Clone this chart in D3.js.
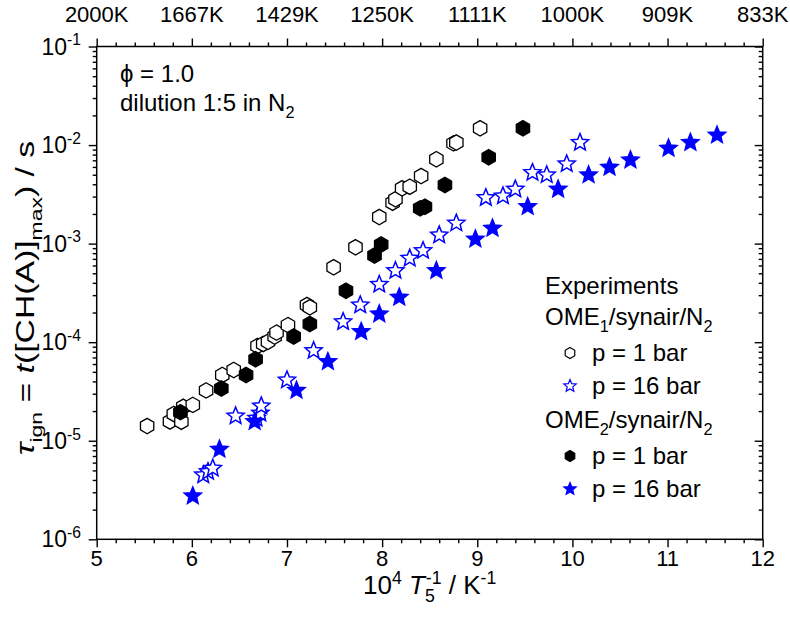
<!DOCTYPE html>
<html>
<head>
<meta charset="utf-8">
<script src="https://cdn.jsdelivr.net/npm/d3@7"></script>
<style>
  body { margin: 0; background: #fff; }
  text { font-family: "Liberation Sans", Arial, sans-serif; fill: #000; }
</style>
</head>
<body>
<div id="chart"></div>
<script>
// data points: [10^4 / T5 (1/K), ignition delay (s)]
var ome1_1bar = [
  [5.53, 1.41e-5], [5.77, 1.57e-5], [5.81, 1.87e-5], [5.89, 1.56e-5], [5.91, 2.21e-5],
  [6.01, 2.31e-5], [6.15, 3.24e-5], [6.32, 4.65e-5], [6.44, 5.22e-5], [6.69, 9.14e-5],
  [6.75, 9.6e-5], [6.80, 1.01e-4], [6.87, 1.14e-4], [6.89, 1.25e-4], [7.01, 1.49e-4],
  [7.21, 2.38e-4], [7.24, 2.26e-4], [7.49, 5.75e-4], [7.72, 9.18e-4], [7.97, 1.86e-3],
  [8.11, 2.60e-3], [8.14, 2.82e-3], [8.21, 3.64e-3], [8.29, 3.78e-3], [8.41, 4.85e-3],
  [8.57, 7.18e-3], [8.75, 1.04e-2], [8.78, 1.06e-2], [9.03, 1.48e-2]
];
var ome1_16bar = [
  [6.12, 4.49e-6], [6.17, 4.85e-6], [6.22, 5.25e-6], [6.46, 1.78e-5], [6.68, 1.69e-5],
  [6.72, 1.9e-5], [6.73, 2.25e-5], [7.00, 4.13e-5], [7.28, 8.2e-5], [7.59, 1.61e-4],
  [7.77, 2.38e-4], [7.97, 3.85e-4], [8.14, 5.31e-4], [8.29, 7.1e-4], [8.43, 8.48e-4],
  [8.60, 1.22e-3], [8.78, 1.61e-3], [9.09, 2.92e-3], [9.27, 3.04e-3], [9.40, 3.56e-3],
  [9.58, 5.25e-3], [9.73, 4.97e-3], [9.94, 6.43e-3], [10.08, 1.06e-2]
];
var ome2_1bar = [
  [5.88, 1.95e-5], [6.31, 3.39e-5], [6.57, 4.65e-5], [6.67, 6.7e-5], [7.07, 1.14e-4],
  [7.24, 1.53e-4], [7.62, 3.33e-4], [7.92, 7.57e-4], [7.99, 9.8e-4], [8.40, 2.28e-3],
  [8.45, 2.37e-3], [8.66, 3.94e-3], [9.12, 7.52e-3], [9.48, 1.48e-2]
];
var ome2_16bar = [
  [6.01, 2.75e-6], [6.29, 8.18e-6], [6.66, 1.56e-5], [7.10, 3.24e-5], [7.43, 6.34e-5],
  [7.78, 1.28e-4], [7.97, 1.93e-4], [8.18, 2.85e-4], [8.57, 5.31e-4], [8.98, 1.11e-3],
  [9.16, 1.43e-3], [9.53, 2.37e-3], [9.85, 3.56e-3], [10.17, 4.97e-3], [10.39, 5.94e-3],
  [10.61, 7.05e-3], [11.01, 9.27e-3], [11.24, 1.06e-2], [11.52, 1.26e-2]
];

var xTicks = [5, 6, 7, 8, 9, 10, 11, 12];
var topLabels = ["2000K", "1667K", "1429K", "1250K", "1111K", "1000K", "909K", "833K"];
var yTicks = [1e-6, 1e-5, 1e-4, 1e-3, 1e-2, 1e-1];
var yExponents = ["-6", "-5", "-4", "-3", "-2", "-1"];

var width = 790, height = 618;
var pL = 96.7, pR = 762.7, pT = 46.5, pB = 539.3;

var svg = d3.select('#chart').append('svg')
  .attr('width', width)
  .attr('height', height);

var x = d3.scaleLinear().domain([5, 12]).range([pL, pR]);
var y = d3.scaleLog().domain([1e-6, 1e-1]).range([pB, pT]);

// minor tick values
var xMinor = d3.range(5, 12.001, 0.2).filter(function(v) { return Math.abs(v - Math.round(v)) > 1e-6; });
var yMinor = [];
for (var e = -6; e < -1; e++) {
  for (var k = 2; k <= 9; k++) yMinor.push(k * Math.pow(10, e));
}

function tickAxis(axis, values, size) {
  return axis.tickValues(values).tickSize(size).tickSizeOuter(0).tickFormat('');
}

function styleAxis(g) {
  g.select('.domain').remove();
  g.selectAll('line').attr('stroke', '#000').attr('stroke-width', 1.4);
}

// bottom axis
svg.append('g').attr('transform', 'translate(0,' + pB + ')')
  .call(tickAxis(d3.axisBottom(x), xTicks, 8)).call(styleAxis);
svg.append('g').attr('transform', 'translate(0,' + pB + ')')
  .call(tickAxis(d3.axisBottom(x), xMinor, 4)).call(styleAxis);
// top axis
svg.append('g').attr('transform', 'translate(0,' + pT + ')')
  .call(tickAxis(d3.axisTop(x), xTicks, 8)).call(styleAxis);
svg.append('g').attr('transform', 'translate(0,' + pT + ')')
  .call(tickAxis(d3.axisTop(x), xMinor, 4)).call(styleAxis);
// left axis
svg.append('g').attr('transform', 'translate(' + pL + ',0)')
  .call(tickAxis(d3.axisLeft(y), yTicks, 8)).call(styleAxis);
svg.append('g').attr('transform', 'translate(' + pL + ',0)')
  .call(tickAxis(d3.axisLeft(y), yMinor, 4)).call(styleAxis);
// right axis, ticks pointing inward
svg.append('g').attr('transform', 'translate(' + pR + ',0)')
  .call(tickAxis(d3.axisLeft(y), yTicks, 8)).call(styleAxis);
svg.append('g').attr('transform', 'translate(' + pR + ',0)')
  .call(tickAxis(d3.axisLeft(y), yMinor, 4)).call(styleAxis);

// frame
svg.append('rect')
  .attr('x', pL).attr('y', pT)
  .attr('width', pR - pL).attr('height', pB - pT)
  .attr('fill', 'none').attr('stroke', '#000').attr('stroke-width', 1.5);

// helper for sub/superscripts
function rich(text, parts, fs) {
  var off = 0;
  parts.forEach(function(p) {
    var target = p[1] === 'sub' ? fs * 0.3 : (p[1] === 'sup' ? -fs * 0.4 : 0);
    var ts = text.append('tspan').attr('dy', target - off).text(p[0]);
    if (p[2]) ts.attr('dx', p[2]);
    off = target;
    if (p[1] === 'sub' || p[1] === 'sup') ts.attr('font-size', fs * 0.68);
    if (p[1] === 'i') ts.attr('font-style', 'italic');
  });
  return text;
}

// tick labels
svg.selectAll('.xlab').data(xTicks).enter().append('text')
  .attr('x', function(d) { return x(d); })
  .attr('y', 566)
  .attr('text-anchor', 'middle')
  .attr('font-size', 22)
  .text(function(d) { return d; });

svg.selectAll('.toplab').data(xTicks).enter().append('text')
  .attr('x', function(d) { return x(d); })
  .attr('y', 22)
  .attr('text-anchor', 'middle')
  .attr('font-size', 22)
  .text(function(d, i) { return topLabels[i]; });

svg.selectAll('.ylab').data(yTicks).enter().append('text')
  .attr('x', 81)
  .attr('y', function(d) { return y(d) + 8; })
  .attr('text-anchor', 'end')
  .attr('font-size', 23)
  .each(function(d, i) {
    rich(d3.select(this), [['10', 'n'], [yExponents[i], 'sup']], 23);
  });

// axis titles
rich(svg.append('text')
  .attr('x', (pL + pR) / 2).attr('y', 594)
  .attr('text-anchor', 'middle').attr('font-size', 26),
  [['10', 'n'], ['4', 'sup'], [' ', 'n'], ['T', 'i'], ['5', 'sub'], ['-1', 'sup', -9], [' / K', 'n'], ['-1', 'sup']], 26);

rich(svg.append('text')
  .attr('transform', 'translate(34,' + 298 + ') rotate(-90) scale(1.35,1)')
  .attr('text-anchor', 'middle').attr('font-size', 25),
  [['\u03C4', 'i'], ['ign', 'sub'], [' = ', 'n'], ['t', 'i'], ['([CH(A)]', 'n'], ['max', 'sub'], [') / s', 'n']], 25);

// annotation
svg.append('text').attr('x', 120).attr('y', 82).attr('font-size', 24).text('\u03D5 = 1.0');
rich(svg.append('text').attr('x', 120).attr('y', 111).attr('font-size', 24),
  [['dilution 1:5 in N', 'n'], ['2', 'sub']], 24);

// marker shapes
function hexPath(r) {
  var pts = d3.range(6).map(function(i) {
    var a = -Math.PI / 2 + i * Math.PI / 3;
    return [r * Math.cos(a), r * Math.sin(a)];
  });
  return 'M' + pts.join('L') + 'Z';
}
function starPath(R, ri) {
  var pts = d3.range(10).map(function(i) {
    var a = -Math.PI / 2 + i * Math.PI / 5;
    var rr = i % 2 === 0 ? R : ri;
    return [rr * Math.cos(a), rr * Math.sin(a)];
  });
  return 'M' + pts.join('L') + 'Z';
}

var series = [
  { data: ome1_1bar, path: hexPath(7.7), fill: '#fff', stroke: '#000', sw: 1.3 },
  { data: ome2_1bar, path: hexPath(7.7), fill: '#000', stroke: '#000', sw: 1.3 },
  { data: ome1_16bar, path: starPath(9, 4), fill: '#fff', stroke: '#0000ff', sw: 1.5 },
  { data: ome2_16bar, path: starPath(9, 4), fill: '#0000ff', stroke: '#0000ff', sw: 1.5 }
];

series.forEach(function(s) {
  svg.append('g').selectAll('path').data(s.data).enter().append('path')
    .attr('d', s.path)
    .attr('transform', function(d) { return 'translate(' + x(d[0]) + ',' + y(d[1]) + ')'; })
    .attr('fill', s.fill)
    .attr('stroke', s.stroke)
    .attr('stroke-width', s.sw);
});

// legend
var lx = 545, sx = 570, tx = 592, lfs = 24;
svg.append('text').attr('x', lx).attr('y', 294).attr('font-size', lfs).text('Experiments');
rich(svg.append('text').attr('x', lx).attr('y', 325).attr('font-size', lfs),
  [['OME', 'n'], ['1', 'sub'], ['/synair/N', 'n'], ['2', 'sub']], lfs);
rich(svg.append('text').attr('x', lx).attr('y', 428).attr('font-size', lfs),
  [['OME', 'n'], ['2', 'sub'], ['/synair/N', 'n'], ['2', 'sub']], lfs);

var legendRows = [
  { yy: 353, path: hexPath(5.5), fill: '#fff', stroke: '#000', label: 'p = 1 bar' },
  { yy: 386, path: starPath(6.5, 2.9), fill: '#fff', stroke: '#0000ff', label: 'p = 16 bar' },
  { yy: 456, path: hexPath(5.5), fill: '#000', stroke: '#000', label: 'p = 1 bar' },
  { yy: 489, path: starPath(6.5, 2.9), fill: '#0000ff', stroke: '#0000ff', label: 'p = 16 bar' }
];
legendRows.forEach(function(r) {
  svg.append('path').attr('d', r.path)
    .attr('transform', 'translate(' + sx + ',' + r.yy + ')')
    .attr('fill', r.fill).attr('stroke', r.stroke).attr('stroke-width', 1.2);
  svg.append('text').attr('x', tx).attr('y', r.yy + 8).attr('font-size', lfs).text(r.label);
});
</script>
</body>
</html>
